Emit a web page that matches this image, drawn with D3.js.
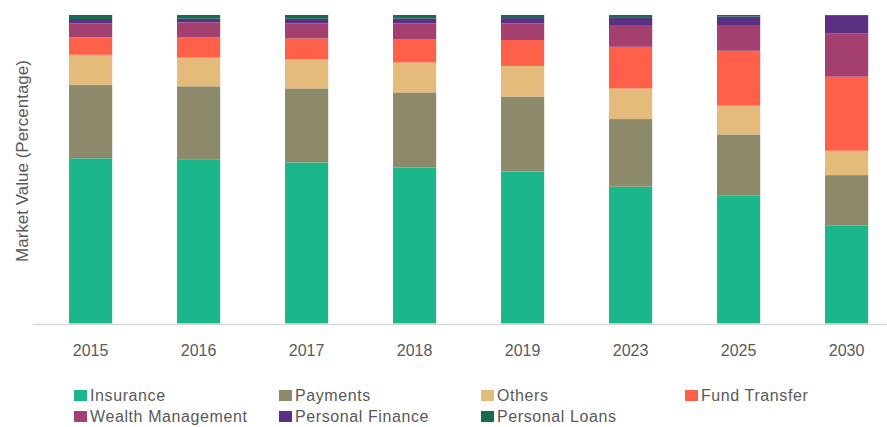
<!DOCTYPE html>
<html>
<head>
<meta charset="utf-8">
<script src="https://cdn.jsdelivr.net/npm/d3@7"></script>
<style>
  body { margin: 0; background: #ffffff; }
  text { font-family: "Liberation Sans", Arial, sans-serif; fill: #595959; }
</style>
</head>
<body>
<div id="chart"></div>
<script>
/** data (percent share of each segment) */
var years = ["2015", "2016", "2017", "2018", "2019", "2023", "2025", "2030"];
var segments = ["Insurance", "Payments", "Others", "Fund Transfer",
                "Wealth Management", "Personal Finance", "Personal Loans"];

var insurance        = [53.5, 53.0, 52.2, 50.5, 49.2, 44.3, 41.4, 31.7];
var payments         = [23.8, 23.8, 24.0, 24.4, 24.3, 21.9, 19.9, 16.4];
var others           = [ 9.7,  9.3,  9.4,  9.7,  9.9,  9.9,  9.3,  7.9];
var fundTransfer     = [ 5.7,  6.5,  6.8,  7.6,  8.4, 13.5, 17.8, 24.0];
var wealthManagement = [ 4.5,  4.9,  4.9,  5.1,  5.4,  6.8,  8.1, 14.1];
var personalFinance  = [ 1.4,  1.2,  1.5,  1.6,  1.7,  2.8,  3.0,  5.6];
var personalLoans    = [ 1.3,  1.2,  1.2,  1.1,  1.0,  0.7,  0.5,  0.3];

var colours = ["#1bb78a", "#8c8a6b", "#e4bb7b", "#fe604a",
               "#a3406f", "#5b2f82", "#166b50"];

/** build the rows for d3.stack */
var series = [insurance, payments, others, fundTransfer,
              wealthManagement, personalFinance, personalLoans];
var rows = years.map(function(y, i) {
  var r = {year: y};
  segments.forEach(function(s, k) { r[s] = series[k][i]; });
  return r;
});

/** size of the picture */
var width = 887;
var height = 427;

var svg = d3.select("#chart")
  .append("svg")
    .attr("width", width)
    .attr("height", height);

/** horizontal axis */
var x = d3.scaleBand()
  .domain(years)
  .range([36.6, 900.6])
  .paddingInner(0.6)
  .paddingOuter(0.3);

/** vertical axis, bars always fill to 100% */
var y = d3.scaleLinear()
  .domain([0, 1])
  .range([323.5, 15]);

var colour = d3.scaleOrdinal()
  .domain(segments)
  .range(colours);

var stacked = d3.stack()
  .keys(segments)
  .offset(d3.stackOffsetExpand)(rows);

svg.append("g")
  .selectAll("g")
  .data(stacked)
  .enter()
  .append("g")
    .attr("fill", function(d) { return colour(d.key); })
  .selectAll("rect")
  .data(function(d) { return d; })
  .enter()
  .append("rect")
    .attr("x", function(d) { return x(d.data.year); })
    .attr("y", function(d) { return y(d[1]); })
    .attr("width", x.bandwidth())
    .attr("height", function(d) { return y(d[0]) - y(d[1]); });

/** x axis with no ticks, just the base line and year labels */
var xAxis = svg.append("g")
  .attr("transform", "translate(0," + 324 + ")")
  .call(d3.axisBottom(x).tickSize(0).tickPadding(21));
xAxis.select(".domain").remove();
xAxis.selectAll("text")
  .style("font-family", "'Liberation Sans', Arial, sans-serif")
  .style("font-size", "16px")
  .attr("fill", "#595959");

svg.append("line")
  .attr("x1", 33)
  .attr("x2", width)
  .attr("y1", 324.5)
  .attr("y2", 324.5)
  .attr("stroke", "#d9d9d9")
  .attr("stroke-width", 1.5);

/** y axis title */
svg.append("text")
  .attr("transform", "translate(28,161) rotate(-90)")
  .attr("text-anchor", "middle")
  .style("font-size", "17px")
  .text("Market Value (Percentage)");

/** legend, 4 per row */
var legendX = [74, 279, 481, 685];
var legend = svg.append("g")
  .selectAll("g")
  .data(segments)
  .enter()
  .append("g")
    .attr("transform", function(d, i) {
      return "translate(" + legendX[i % 4] + "," + (390 + Math.floor(i / 4) * 21) + ")";
    });

legend.append("rect")
  .attr("width", 13)
  .attr("height", 11)
  .attr("fill", function(d) { return colour(d); });

legend.append("text")
  .attr("x", 16)
  .attr("y", 11)
  .style("font-size", "16px")
  .style("letter-spacing", "0.6px")
  .text(function(d) { return d; });
</script>
</body>
</html>
